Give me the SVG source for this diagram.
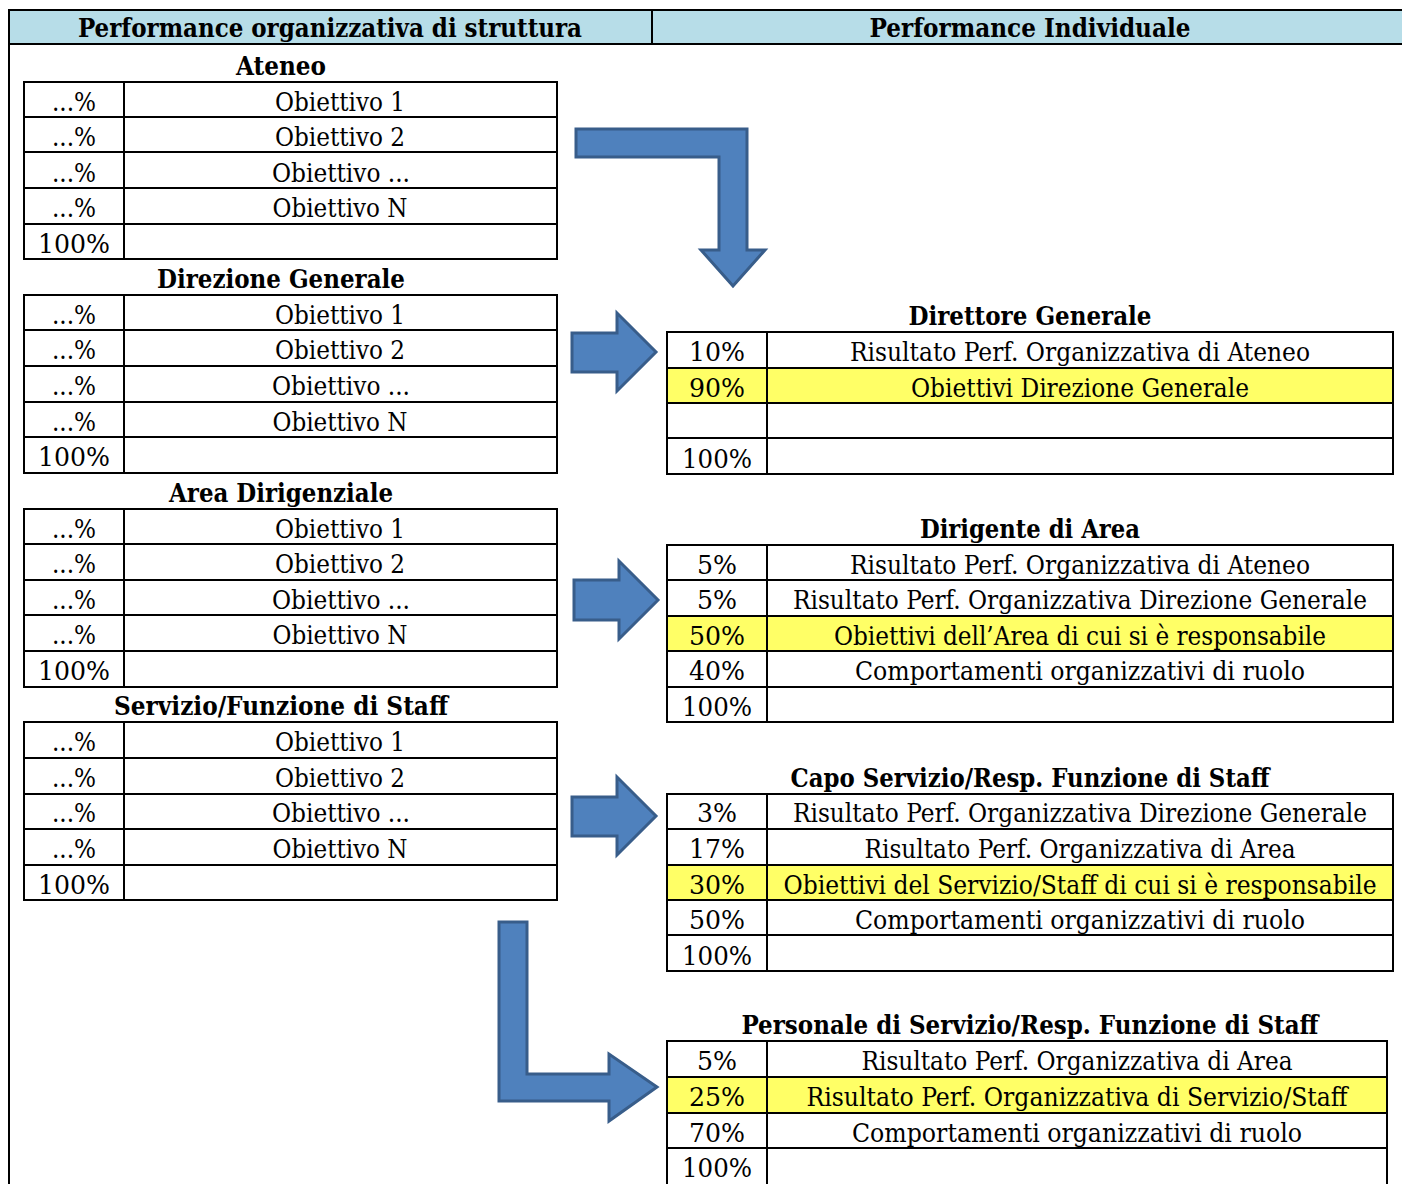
<svg xmlns="http://www.w3.org/2000/svg" width="1402" height="1184" viewBox="0 0 1402 1184">
<style>
text{font-family:"DejaVu Serif","Liberation Serif",serif;font-stretch:condensed;font-size:26px;fill:#000;text-anchor:middle}
.b{font-weight:bold}
.t{fill:none;stroke:#000;stroke-width:2}
.y{fill:#FFFF66}
.hd{fill:#B7DDE8}
.ar{fill:#4F81BD;stroke:#385D8A;stroke-width:3;stroke-linejoin:miter}
</style>
<rect width="1402" height="1184" fill="#fff"/>
<g id="header">
<rect class="hd" x="9" y="10" width="1395" height="34"/>
<line x1="9" y1="10" x2="1402" y2="10" stroke="#000" stroke-width="2"/>
<line x1="9" y1="44" x2="1402" y2="44" stroke="#000" stroke-width="2"/>
<line x1="652" y1="10" x2="652" y2="44" stroke="#000" stroke-width="2"/>
<line x1="9" y1="9" x2="9" y2="1184" stroke="#000" stroke-width="2"/>
<text class="b" x="330" y="37" textLength="504" lengthAdjust="spacingAndGlyphs">Performance organizzativa di struttura</text>
<text class="b" x="1030" y="37" textLength="321" lengthAdjust="spacingAndGlyphs">Performance Individuale</text>
</g>

<g id="ateneo">
<text class="b" x="281" y="75" textLength="90" lengthAdjust="spacingAndGlyphs">Ateneo</text>
<rect class="t" x="24" y="82" width="533" height="177"/>
<path class="t" d="M124 82V259M24 117H557M24 152H557M24 188H557M24 224H557"/>
<text x="74" y="111" textLength="44" lengthAdjust="spacingAndGlyphs">...%</text>
<text x="340" y="111" textLength="130" lengthAdjust="spacingAndGlyphs">Obiettivo 1</text>
<text x="74" y="146" textLength="44" lengthAdjust="spacingAndGlyphs">...%</text>
<text x="340" y="146" textLength="130" lengthAdjust="spacingAndGlyphs">Obiettivo 2</text>
<text x="74" y="182" textLength="44" lengthAdjust="spacingAndGlyphs">...%</text>
<text x="341" y="182" textLength="138" lengthAdjust="spacingAndGlyphs">Obiettivo ...</text>
<text x="74" y="217" textLength="44" lengthAdjust="spacingAndGlyphs">...%</text>
<text x="340" y="217" textLength="135" lengthAdjust="spacingAndGlyphs">Obiettivo N</text>
<text x="74" y="253" textLength="72" lengthAdjust="spacingAndGlyphs">100%</text>
</g>

<g id="direzione">
<text class="b" x="281" y="288" textLength="248" lengthAdjust="spacingAndGlyphs">Direzione Generale</text>
<rect class="t" x="24" y="295" width="533" height="178"/>
<path class="t" d="M124 295V473M24 330H557M24 366H557M24 402H557M24 437H557"/>
<text x="74" y="324" textLength="44" lengthAdjust="spacingAndGlyphs">...%</text>
<text x="340" y="324" textLength="130" lengthAdjust="spacingAndGlyphs">Obiettivo 1</text>
<text x="74" y="359" textLength="44" lengthAdjust="spacingAndGlyphs">...%</text>
<text x="340" y="359" textLength="130" lengthAdjust="spacingAndGlyphs">Obiettivo 2</text>
<text x="74" y="395" textLength="44" lengthAdjust="spacingAndGlyphs">...%</text>
<text x="341" y="395" textLength="138" lengthAdjust="spacingAndGlyphs">Obiettivo ...</text>
<text x="74" y="431" textLength="44" lengthAdjust="spacingAndGlyphs">...%</text>
<text x="340" y="431" textLength="135" lengthAdjust="spacingAndGlyphs">Obiettivo N</text>
<text x="74" y="466" textLength="72" lengthAdjust="spacingAndGlyphs">100%</text>
</g>

<g id="area">
<text class="b" x="281" y="502" textLength="224" lengthAdjust="spacingAndGlyphs">Area Dirigenziale</text>
<rect class="t" x="24" y="509" width="533" height="178"/>
<path class="t" d="M124 509V687M24 544H557M24 580H557M24 615H557M24 651H557"/>
<text x="74" y="538" textLength="44" lengthAdjust="spacingAndGlyphs">...%</text>
<text x="340" y="538" textLength="130" lengthAdjust="spacingAndGlyphs">Obiettivo 1</text>
<text x="74" y="573" textLength="44" lengthAdjust="spacingAndGlyphs">...%</text>
<text x="340" y="573" textLength="130" lengthAdjust="spacingAndGlyphs">Obiettivo 2</text>
<text x="74" y="609" textLength="44" lengthAdjust="spacingAndGlyphs">...%</text>
<text x="341" y="609" textLength="138" lengthAdjust="spacingAndGlyphs">Obiettivo ...</text>
<text x="74" y="644" textLength="44" lengthAdjust="spacingAndGlyphs">...%</text>
<text x="340" y="644" textLength="135" lengthAdjust="spacingAndGlyphs">Obiettivo N</text>
<text x="74" y="680" textLength="72" lengthAdjust="spacingAndGlyphs">100%</text>
</g>

<g id="servizio">
<text class="b" x="281" y="715" textLength="334" lengthAdjust="spacingAndGlyphs">Servizio/Funzione di Staff</text>
<rect class="t" x="24" y="722" width="533" height="178"/>
<path class="t" d="M124 722V900M24 758H557M24 794H557M24 829H557M24 865H557"/>
<text x="74" y="751" textLength="44" lengthAdjust="spacingAndGlyphs">...%</text>
<text x="340" y="751" textLength="130" lengthAdjust="spacingAndGlyphs">Obiettivo 1</text>
<text x="74" y="787" textLength="44" lengthAdjust="spacingAndGlyphs">...%</text>
<text x="340" y="787" textLength="130" lengthAdjust="spacingAndGlyphs">Obiettivo 2</text>
<text x="74" y="822" textLength="44" lengthAdjust="spacingAndGlyphs">...%</text>
<text x="341" y="822" textLength="138" lengthAdjust="spacingAndGlyphs">Obiettivo ...</text>
<text x="74" y="858" textLength="44" lengthAdjust="spacingAndGlyphs">...%</text>
<text x="340" y="858" textLength="135" lengthAdjust="spacingAndGlyphs">Obiettivo N</text>
<text x="74" y="894" textLength="72" lengthAdjust="spacingAndGlyphs">100%</text>
</g>

<g id="direttore">
<text class="b" x="1030" y="325" textLength="243" lengthAdjust="spacingAndGlyphs">Direttore Generale</text>
<rect class="y" x="667" y="368" width="726" height="35"/>
<rect class="t" x="667" y="332" width="726" height="142"/>
<path class="t" d="M767 332V474M667 368H1393M667 403H1393M667 438H1393"/>
<text x="717" y="361" textLength="56" lengthAdjust="spacingAndGlyphs">10%</text>
<text x="1080" y="361" textLength="460" lengthAdjust="spacingAndGlyphs">Risultato Perf. Organizzativa di Ateneo</text>
<text x="717" y="397" textLength="56" lengthAdjust="spacingAndGlyphs">90%</text>
<text x="1080" y="397" textLength="338" lengthAdjust="spacingAndGlyphs">Obiettivi Direzione Generale</text>
<text x="717" y="468" textLength="70" lengthAdjust="spacingAndGlyphs">100%</text>
</g>

<g id="dirigente">
<text class="b" x="1030" y="538" textLength="220" lengthAdjust="spacingAndGlyphs">Dirigente di Area</text>
<rect class="y" x="667" y="616" width="726" height="35"/>
<rect class="t" x="667" y="545" width="726" height="177"/>
<path class="t" d="M767 545V722M667 580H1393M667 616H1393M667 651H1393M667 687H1393"/>
<text x="717" y="574" textLength="40" lengthAdjust="spacingAndGlyphs">5%</text>
<text x="1080" y="574" textLength="460" lengthAdjust="spacingAndGlyphs">Risultato Perf. Organizzativa di Ateneo</text>
<text x="717" y="609" textLength="40" lengthAdjust="spacingAndGlyphs">5%</text>
<text x="1080" y="609" textLength="574" lengthAdjust="spacingAndGlyphs">Risultato Perf. Organizzativa Direzione Generale</text>
<text x="717" y="645" textLength="56" lengthAdjust="spacingAndGlyphs">50%</text>
<text x="1080" y="645" textLength="492" lengthAdjust="spacingAndGlyphs">Obiettivi dell’Area di cui si è responsabile</text>
<text x="717" y="680" textLength="56" lengthAdjust="spacingAndGlyphs">40%</text>
<text x="1080" y="680" textLength="450" lengthAdjust="spacingAndGlyphs">Comportamenti organizzativi di ruolo</text>
<text x="717" y="716" textLength="70" lengthAdjust="spacingAndGlyphs">100%</text>
</g>

<g id="capo">
<text class="b" x="1030" y="787" textLength="479" lengthAdjust="spacingAndGlyphs">Capo Servizio/Resp. Funzione di Staff</text>
<rect class="y" x="667" y="865" width="726" height="35"/>
<rect class="t" x="667" y="794" width="726" height="177"/>
<path class="t" d="M767 794V971M667 829H1393M667 865H1393M667 900H1393M667 935H1393"/>
<text x="717" y="822" textLength="40" lengthAdjust="spacingAndGlyphs">3%</text>
<text x="1080" y="822" textLength="574" lengthAdjust="spacingAndGlyphs">Risultato Perf. Organizzativa Direzione Generale</text>
<text x="717" y="858" textLength="56" lengthAdjust="spacingAndGlyphs">17%</text>
<text x="1080" y="858" textLength="431" lengthAdjust="spacingAndGlyphs">Risultato Perf. Organizzativa di Area</text>
<text x="717" y="894" textLength="56" lengthAdjust="spacingAndGlyphs">30%</text>
<text x="1080" y="894" textLength="593" lengthAdjust="spacingAndGlyphs">Obiettivi del Servizio/Staff di cui si è responsabile</text>
<text x="717" y="929" textLength="56" lengthAdjust="spacingAndGlyphs">50%</text>
<text x="1080" y="929" textLength="450" lengthAdjust="spacingAndGlyphs">Comportamenti organizzativi di ruolo</text>
<text x="717" y="965" textLength="70" lengthAdjust="spacingAndGlyphs">100%</text>
</g>

<g id="personale">
<text class="b" x="1030" y="1034" textLength="577" lengthAdjust="spacingAndGlyphs">Personale di Servizio/Resp. Funzione di Staff</text>
<rect class="y" x="667" y="1077" width="720" height="36"/>
<rect class="t" x="667" y="1041" width="720" height="145"/>
<path class="t" d="M767 1041V1186M667 1077H1387M667 1113H1387M667 1148H1387"/>
<text x="717" y="1070" textLength="40" lengthAdjust="spacingAndGlyphs">5%</text>
<text x="1077" y="1070" textLength="431" lengthAdjust="spacingAndGlyphs">Risultato Perf. Organizzativa di Area</text>
<text x="717" y="1106" textLength="56" lengthAdjust="spacingAndGlyphs">25%</text>
<text x="1077" y="1106" textLength="541" lengthAdjust="spacingAndGlyphs">Risultato Perf. Organizzativa di Servizio/Staff</text>
<text x="717" y="1142" textLength="56" lengthAdjust="spacingAndGlyphs">70%</text>
<text x="1077" y="1142" textLength="450" lengthAdjust="spacingAndGlyphs">Comportamenti organizzativi di ruolo</text>
<text x="717" y="1177" textLength="70" lengthAdjust="spacingAndGlyphs">100%</text>
</g>

<g id="connectors">
<path class="ar" d="M576 129H747V250H765L733 286L701 250H719V157H576Z"/>
<path class="ar" d="M572 333H617V313L656 352L617 391V372H572Z"/>
<path class="ar" d="M574 580H619V561L658 600L619 639V620H574Z"/>
<path class="ar" d="M572 797H617V777L656 816L617 855V836H572Z"/>
<path class="ar" d="M499 922H527V1074H609V1054L657 1087L609 1121V1101H499Z"/>
</g>
</svg>
